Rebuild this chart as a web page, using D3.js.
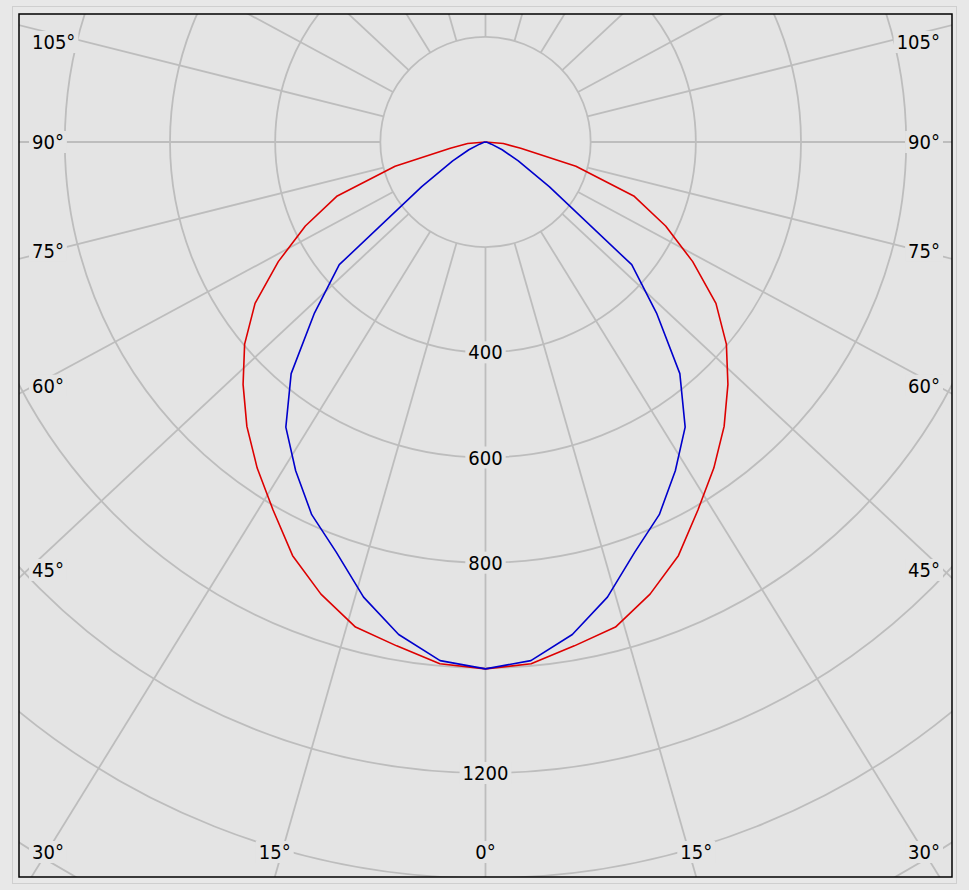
<!DOCTYPE html>
<html>
<head>
<meta charset="utf-8">
<script src="https://cdn.jsdelivr.net/npm/d3@7"></script>
<style>
  html, body { margin: 0; padding: 0; background: #e8e8e8; }
  svg { display: block; }
</style>
</head>
<body>
<div id="chart"></div>
<script>
// ---------- DATA ----------
const gammaAngles = [0, 5, 10, 15, 20, 25, 30, 35, 40, 45, 50, 55, 60, 65, 70, 75, 80, 85, 90];
const planeC0C180 = [1002, 996, 973, 955, 915, 868, 808, 757, 706, 652, 598, 535, 455, 378, 300, 178, 68, 34, 0];
const planeC90C270 = [1002, 990, 951, 896, 830, 782, 722, 662, 575, 460, 363, 148, 72, 35, 12, 4, 1, 0, 0];
const ringValues = [200, 400, 600, 800, 1000, 1200, 1400, 1600];
const ringLabels = [400, 600, 800, 1200];
const spokeAngles = [0, 15, 30, 45, 60, 75, 90, 105, 120, 135, 150, 165, 180];
const angleLabels = [0, 15, 30, 45, 60, 75, 90, 105];

// ---------- LAYOUT ----------
const W = 969, H = 890;
const box = { x0: 19, y0: 14, x1: 952, y1: 877 };
const cx = (box.x0 + box.x1) / 2, cy = 142;
const bg = "#e4e4e4", gridColor = "#bdbdbd";
const spokeStretch = 1.07;
const font = "'DejaVu Sans Condensed','DejaVu Sans',sans-serif";

const r = d3.scaleLinear().domain([0, 1200]).range([0, 631]);

const svg = d3.select("#chart").append("svg").attr("width", W).attr("height", H);

// outer frame
svg.append("rect").attr("x", 12.5).attr("y", 6.5).attr("width", 944).attr("height", 877)
  .attr("fill", "#e8e8e8").attr("stroke", "#cfcfcf").attr("stroke-width", 1);

svg.append("defs").append("clipPath").attr("id", "plotClip")
  .append("rect").attr("x", box.x0).attr("y", box.y0)
  .attr("width", box.x1 - box.x0).attr("height", box.y1 - box.y0);

svg.append("rect").attr("x", box.x0).attr("y", box.y0)
  .attr("width", box.x1 - box.x0).attr("height", box.y1 - box.y0).attr("fill", bg);

const plot = svg.append("g").attr("clip-path", "url(#plotClip)");
const g = plot.append("g").attr("transform", `translate(${cx},${cy})`);

// rings
g.selectAll("circle.ring").data(ringValues).join("circle")
  .attr("class", "ring").attr("r", d => r(d))
  .attr("fill", "none").attr("stroke", gridColor).attr("stroke-width", 1.8);

// spoke direction (gamma measured from downward vertical, side = +1 right / -1 left)
function dir(gamma, side) {
  const a = gamma * Math.PI / 180;
  const ux = side * spokeStretch * Math.sin(a), uy = Math.cos(a);
  const n = Math.hypot(ux, uy);
  return [ux / n, uy / n];
}
const spokes = [];
spokeAngles.forEach(a => {
  spokes.push({ a, side: 1 });
  if (a !== 0 && a !== 180) spokes.push({ a, side: -1 });
});
g.selectAll("line.spoke").data(spokes).join("line")
  .attr("class", "spoke")
  .attr("x1", d => dir(d.a, d.side)[0] * r(200))
  .attr("y1", d => dir(d.a, d.side)[1] * r(200))
  .attr("x2", d => dir(d.a, d.side)[0] * 2000)
  .attr("y2", d => dir(d.a, d.side)[1] * 2000)
  .attr("stroke", gridColor).attr("stroke-width", 1.8);

// curves
function curvePoints(values) {
  const pts = [];
  for (let i = gammaAngles.length - 1; i >= 0; i--) pts.push([Math.PI + gammaAngles[i] * Math.PI / 180, values[i]]);
  for (let i = 1; i < gammaAngles.length; i++) pts.push([Math.PI - gammaAngles[i] * Math.PI / 180, values[i]]);
  return pts;
}
const radial = d3.lineRadial().angle(d => d[0]).radius(d => r(d[1]));
g.append("path").attr("d", radial(curvePoints(planeC0C180)))
  .attr("fill", "none").attr("stroke", "#dd0000").attr("stroke-width", 1.6)
  .attr("stroke-linejoin", "round");
g.append("path").attr("d", radial(curvePoints(planeC90C270)))
  .attr("fill", "none").attr("stroke", "#0000cc").attr("stroke-width", 1.6)
  .attr("stroke-linejoin", "round");

// labels
const labelLayer = svg.append("g");
function addLabel(text, x, y, anchor) {
  const grp = labelLayer.append("g");
  const t = grp.append("text").text(text).attr("x", x).attr("y", y)
    .attr("text-anchor", anchor).attr("dominant-baseline", "central")
    .attr("font-family", font).attr("font-size", 20).attr("fill", "#000");
  const bb = t.node().getBBox();
  grp.insert("rect", "text").attr("x", bb.x - 3).attr("y", bb.y + 1)
    .attr("width", bb.width + 6).attr("height", bb.height - 2).attr("fill", bg);
  return { t, bb };
}

ringLabels.forEach(v => addLabel(String(v), cx, cy + r(v), "middle"));

// angle labels where spokes hit the plot border
const inset = { x0: 32, x1: 940, y0: 32, y1: 862 };
angleLabels.forEach(a => {
  const sides = a === 0 ? [1] : [-1, 1];
  sides.forEach(side => {
    const [ux, uy] = dir(a, side);
    const ts = [];
    if (ux > 1e-9) ts.push((box.x1 - cx) / ux);
    if (ux < -1e-9) ts.push((box.x0 - cx) / ux);
    if (uy > 1e-9) ts.push((box.y1 - cy) / uy);
    if (uy < -1e-9) ts.push((box.y0 - cy) / uy);
    const t = Math.min(...ts);
    let hx = cx + ux * t, hy = cy + uy * t;
    const txt = a + "°";
    const probe = svg.append("text").text(txt).attr("font-family", font).attr("font-size", 20);
    const w = probe.node().getBBox().width, h = 20;
    probe.remove();
    const sideHit = Math.abs(hx - box.x0) < 0.5 || Math.abs(hx - box.x1) < 0.5;
    if (sideHit && Math.abs(hy - cy) > 1) hy += (hy > cy ? -8 : 10);
    let x = Math.min(Math.max(hx, inset.x0 + w / 2), inset.x1 - w / 2);
    let y = Math.min(Math.max(hy, inset.y0 + h / 2), inset.y1 - h / 2);
    addLabel(txt, x, y, "middle");
  });
});

// plot border
svg.append("rect").attr("x", box.x0).attr("y", box.y0)
  .attr("width", box.x1 - box.x0).attr("height", box.y1 - box.y0)
  .attr("fill", "none").attr("stroke", "#000").attr("stroke-width", 1.5);
</script>
</body>
</html>
